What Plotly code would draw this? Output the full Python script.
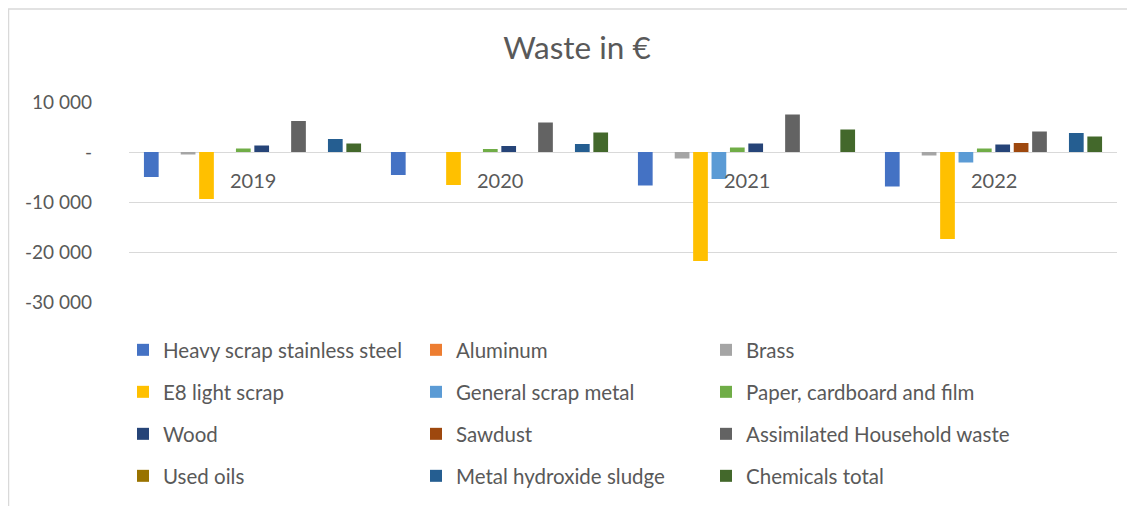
import plotly.graph_objects as go

years = ["2019", "2020", "2021", "2022"]
series_names = [
    "Heavy scrap stainless steel", "Aluminum", "Brass",
    "E8 light scrap", "General scrap metal", "Paper, cardboard and film",
    "Wood", "Sawdust", "Assimilated Household waste",
    "Used oils", "Metal hydroxide sludge", "Chemicals total",
]
heavy_scrap = [-5000, -4600, -6700, -6900]
aluminum = [0, 0, 0, 0]
brass = [-500, 0, -1300, -700]
e8_light = [-9400, -6600, -21800, -17400]
general_scrap = [0, 0, -5400, -2100]
paper = [700, 600, 900, 700]
wood = [1300, 1200, 1700, 1500]
sawdust = [0, 0, 0, 1800]
household = [6200, 5900, 7500, 4100]
used_oils = [0, 0, 0, 0]
sludge = [2600, 1600, 0, 3800]
chemicals = [1700, 3900, 4500, 3100]
series_values = [heavy_scrap, aluminum, brass, e8_light, general_scrap, paper,
                 wood, sawdust, household, used_oils, sludge, chemicals]
colors = ["#4472C4", "#ED7D31", "#A5A5A5", "#FFC000", "#5B9BD5", "#70AD47",
          "#264478", "#9E480E", "#636363", "#997300", "#255E91", "#43682B"]
tick_vals = [-30000, -20000, -10000, 0, 10000]
tick_text = ["-30 000", "-20 000", "-10 000", "-", "10 000"]

OFF = 8  # page offset of the figure (body margin)
W, H = 1135 - OFF, 506 - OFF
FONT = "Lato"
GREY = "#595959"

ml, mr, mt, mb = 129 - OFF, 18, 102 - OFF, 204
pw, ph = W - ml - mr, H - mt - mb

def px_to_paper_x(px):
    return (px - OFF - ml) / pw

def py_to_paper_y(py):
    return (H - mb - (py - OFF)) / ph

legend_ids = ["legend"] + [f"legend{i}" for i in range(2, 13)]
col_x = [123, 416, 706]
row_y = [350, 392, 434, 476]

fig = go.Figure()
legend_layout = {}
for i, (name, vals, c) in enumerate(zip(series_names, series_values, colors)):
    lid = legend_ids[i]
    fig.add_trace(go.Bar(
        x=years, y=vals, name=name, marker_color=c,
        marker_line_width=0, legend=lid, showlegend=True,
    ))
    legend_layout[lid] = dict(
        orientation="v", xref="paper", yref="paper",
        x=px_to_paper_x(col_x[i % 3]), y=py_to_paper_y(row_y[i // 3]),
        xanchor="left", yanchor="middle",
        font=dict(family=FONT, size=20.5, color=GREY),
        bgcolor="rgba(0,0,0,0)", itemclick=False,
    )

annotations = [
    dict(x=i, y=0, xref="x", yref="y", text=y, showarrow=False,
         yanchor="top", yshift=-14,
         font=dict(family=FONT, size=20, color=GREY))
    for i, y in enumerate(years)
]

fig.update_layout(
    width=W, height=H, showlegend=True,
    margin=dict(l=ml, r=mr, t=mt, b=mb, pad=0, autoexpand=False),
    paper_bgcolor="white", plot_bgcolor="white",
    title=dict(text="Waste in €", x=(577 - OFF) / W, xref="container",
               xanchor="center", y=1 - (48 - OFF) / H, yref="container",
               yanchor="middle",
               font=dict(family=FONT, size=31.5, color=GREY)),
    barmode="group", bargap=0.106, bargroupgap=0.2,
    font=dict(family=FONT, color=GREY),
    annotations=annotations,
    shapes=[dict(type="rect", xref="paper", yref="paper",
                 x0=px_to_paper_x(8.5), x1=px_to_paper_x(1145),
                 y0=py_to_paper_y(520), y1=py_to_paper_y(9),
                 line=dict(color="#D9D9D9", width=1.5), layer="below")],
    **legend_layout,
)
fig.update_xaxes(type="category", range=[-0.5, 3.5], showticklabels=False,
                 showgrid=False, zeroline=False, showline=False, ticks="")
fig.update_yaxes(range=[-30000, 10000], tickvals=tick_vals, ticktext=tick_text,
                 showgrid=True, gridcolor="#D9D9D9", gridwidth=1.2,
                 zeroline=True, zerolinecolor="#D9D9D9", zerolinewidth=1.2,
                 showline=False, ticks="", ticklabelstandoff=36,
                 tickfont=dict(family=FONT, size=19, color=GREY))

fig.write_html("out.html")
